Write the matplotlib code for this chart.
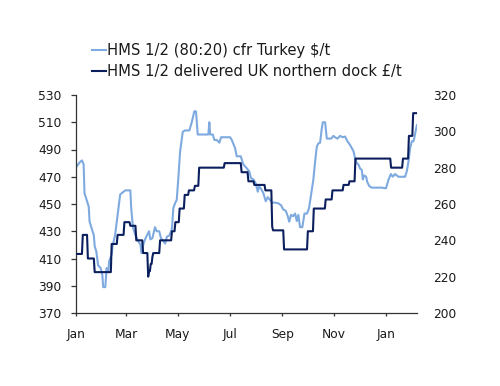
import matplotlib
matplotlib.use("Agg")
import matplotlib.pyplot as plt
import matplotlib.dates as mdates
import numpy as np
import pandas as pd

plt.rcParams['font.family'] = ['DejaVu Sans']

start = pd.Timestamp('2013-01-01')

# HMS 1/2 (80:20) cfr Turkey $/t  (left axis) - day offsets from 1 Jan
turkey_days = [0, 5, 7, 9, 10, 13, 15, 16, 19, 21, 22, 24, 26, 29, 31, 32, 34.5, 36, 38, 39,
               42, 43, 46, 48, 50, 52, 54, 58, 64, 65, 67, 70, 74, 76, 77, 80, 82, 86, 87.5, 90,
               93, 95, 98, 100, 102.5, 105, 107, 110, 113, 114.6, 116.6, 118.6, 120.5, 122.5, 125.7, 128.4, 133.5, 136.3, 139.3, 141.3,
               143.3, 148, 152, 155.8, 157, 158, 161, 163, 165.7, 168.8, 170.8, 175.5, 181.4, 183.4, 187.3, 189.3, 194, 197, 200, 204,
               206, 209, 211.7, 214, 215.5, 218, 220.6, 223.4, 225.8, 228.5, 231, 234.4, 238.3, 241.5, 244, 247, 249.4, 251, 253.2, 255.6,
               258, 260, 261.8, 263.8, 266.5, 269, 272, 274.4, 276.8, 279.5, 281.5, 283.5, 285.4, 287.4, 289.4, 290.6, 293.3, 295.3, 300.4, 303,
               305, 307.8, 311, 314, 316.8, 319.6, 322, 324.7, 326.6, 328.6, 330.6, 332.5, 334.5, 336.5, 337.7, 339.2, 341.6, 343, 345.5, 348.3,
               354.2, 360, 365, 367.8, 370.7, 373, 375.7, 379.6, 383.6, 387.5, 389.5, 391.4, 393.4, 395.4, 397.3, 398.5, 400.5, 401.5]
turkey_vals = [477, 481, 482, 479, 458, 452, 448, 437, 431, 427, 419, 415, 405, 403, 398, 389, 389, 403, 400, 408,
               413, 419, 427, 437, 447, 457, 458, 460, 460, 447, 433, 427, 422, 420, 414, 422, 425, 430, 424, 425,
               433, 430, 430, 425, 423, 421, 426, 427, 432, 447, 450.5, 453, 469, 488, 503, 504, 504, 510, 518, 518,
               501, 501, 501, 501, 510, 501, 501, 497, 497, 495, 499, 499, 499, 497, 491, 485, 485, 479, 477, 474,
               469, 468, 465, 459, 463, 461, 458, 452, 455, 453, 451, 451, 450.5, 449, 446, 445, 441, 437, 442, 441,
               443, 437.5, 442, 433, 433, 443, 443, 447, 457, 468, 481, 492, 494.5, 495, 505.5, 510, 510, 498, 498, 500,
               499, 498, 500, 499, 499.5, 496, 494, 491, 489, 483.5, 480, 479, 476, 475, 468, 471, 470, 466, 463, 462,
               462, 462, 461.5, 467.6, 472, 470, 472, 470, 470, 470, 474, 481, 491, 496, 496, 499, 505.5, 508]

# HMS 1/2 delivered UK northern dock £/t (right axis) - change points (day offset, value)
uk_days = [0, 8, 14, 22, 42, 49, 57, 64, 71, 79, 85, 86, 88, 90, 91, 99, 113, 117, 122, 128,
           133, 140, 145, 175, 195, 203, 210, 223, 231, 232, 245, 273, 280, 294, 302, 315, 322, 329, 371, 385,
           392, 397, 401]
uk_vals = [232.5, 243, 230, 222.5, 238, 243, 250, 248, 240, 233, 220, 223, 227, 231, 233, 240, 245, 250, 257.5, 265,
           267.5, 270, 280, 282.5, 277.5, 272.5, 270.5, 267.5, 247.5, 245.5, 235, 245, 257.5, 262.5, 267.5, 270.5, 272.5, 285, 280, 285,
           297.5, 310, 310]

left_ticks = [370, 390, 410, 430, 450, 470, 490, 510, 530]
right_ticks = [200, 220, 240, 260, 280, 300, 320]

label_turkey = 'HMS 1/2 (80:20) cfr Turkey $/t'
label_uk = 'HMS 1/2 delivered UK northern dock £/t'

light = '#7EAAE0'
dark = '#0B1F5E'
spine_col = '#333333'
text_col = '#1a1a1a'

turkey_dates = start + pd.to_timedelta(np.array(turkey_days), unit='D')
uk_series = pd.Series(uk_vals, index=start + pd.to_timedelta(np.array(uk_days), unit='D'))
uk_daily = uk_series.resample('D').ffill()

fig = plt.figure(figsize=(5.0, 3.86), dpi=100)
ax = fig.add_axes([76/500, 1-313/386, 341/500, 218/386])
ax2 = ax.twinx()

l1, = ax.plot(turkey_dates, turkey_vals, color=light, lw=1.5, label=label_turkey)
l2, = ax2.plot(uk_daily.index, uk_daily.values, color=dark, lw=1.5, label=label_uk)

ax.set_ylim(370, 530)
ax.set_yticks(left_ticks)
ax2.set_ylim(200, 320)
ax2.set_yticks(right_ticks)

ax.set_xlim(start, start + pd.Timedelta(days=401.5))
ax.xaxis.set_major_locator(mdates.MonthLocator(bymonth=[1, 3, 5, 7, 9, 11]))
ax.xaxis.set_major_formatter(mdates.DateFormatter('%b'))

for a in (ax, ax2):
    for s in ['top', 'right']:
        a.spines[s].set_visible(False)
ax2.spines['left'].set_visible(False)
ax2.spines['bottom'].set_visible(False)
for s in ['left', 'bottom']:
    ax.spines[s].set_color(spine_col)
    ax.spines[s].set_linewidth(0.9)

fs = 8.8
ax.tick_params(axis='y', direction='out', length=3.6, width=0.9, color=spine_col, pad=7.0,
               labelsize=fs, labelcolor=text_col)
ax.tick_params(axis='x', direction='out', length=2.5, width=0.9, color=spine_col, pad=8.0,
               labelsize=fs, labelcolor=text_col)
ax2.tick_params(axis='y', length=0, pad=11.5, labelsize=fs, labelcolor=text_col)

fig.legend(handles=[l1, l2], loc='upper left', bbox_to_anchor=(92/500, 1-43.5/386),
           frameon=False, fontsize=10.6, handlelength=0.95, handletextpad=0.08,
           borderpad=0, borderaxespad=0, labelspacing=0.38, labelcolor=text_col)

fig.savefig('out.png', dpi=100)
